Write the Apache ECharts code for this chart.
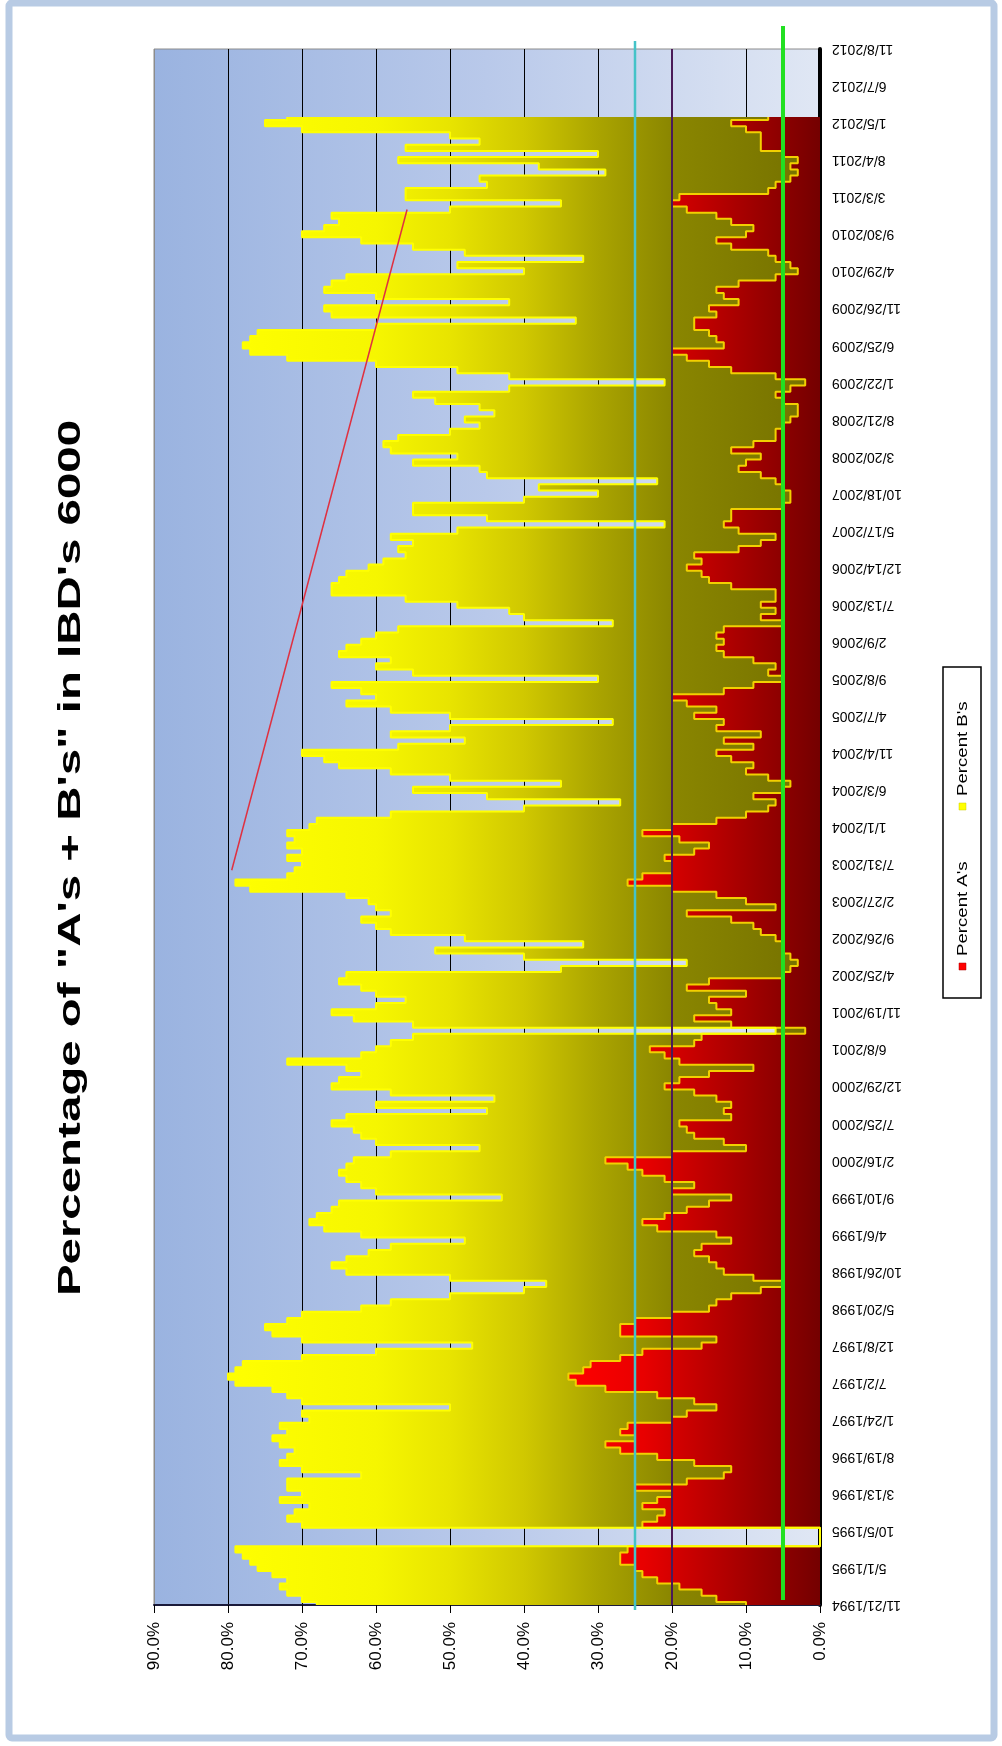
<!DOCTYPE html>
<html><head><meta charset="utf-8">
<script src="https://cdn.jsdelivr.net/npm/echarts@6/dist/echarts.min.js"></script>
<style>html,body{margin:0;padding:0;background:#fff;}#c{width:1002px;height:1746px;}</style>
</head><body><div id="c"></div>
<script>
const chartTitle = 'Percentage of "A\'s + B\'s" in IBD\'s 6000';
const seriesNames = ["Percent A's", "Percent B's"];
const tickLabels = ['11/21/1994','5/1/1995','10/5/1995','3/13/1996','8/19/1996','1/24/1997','7/2/1997','12/8/1997','5/20/1998','10/26/1998','4/6/1999','9/10/1999','2/16/2000','7/25/2000','12/29/2000','6/8/2001','11/19/2001','4/25/2002','9/26/2002','2/27/2003','7/31/2003','1/1/2004','6/3/2004','11/4/2004','4/7/2005','9/8/2005','2/9/2006','7/13/2006','12/14/2006','5/17/2007','10/18/2007','3/20/2008','8/21/2008','1/22/2009','6/25/2009','11/26/2009','4/29/2010','9/30/2010','3/3/2011','8/4/2011','1/5/2012','6/7/2012','11/8/2012'];
const pointsPerTick = 6;
const pctA = [10,14,16,19,22,24,25,27,27,26, 0,0,0,24,22,21,24,22,20,25, 18,13,12,17,22,27,29,25,27,26, 20,18,14,17,22,29,33,34,32,31,
 27,24,16,14,27,27,25,20,15,14, 12,8,5,9,13,14,15,17,16,12, 14,22,24,21,18,15,12,20,17,21, 24,26,29,20,10,13,17,18,19,12,
 13,12,14,17,21,19,15,9,19,21, 23,17,16,2,12,17,12,14,15,10, 18,15,5,4,3,4,5,5,6,8, 9,12,18,6,10,14,20,26,24,20,
 20,21,17,15,19,24,20,14,10,7, 6,9,5,4,7,10,9,12,14,9, 13,8,14,13,17,14,18,20,13,9, 5,7,6,9,13,14,13,14,13,5,
 8,6,8,6,6,12,15,16,18,16, 17,11,8,6,11,13,12,12,5,4, 4,5,6,8,11,10,8,12,9,6, 6,5,4,3,3,5,6,4,2,6,
 12,15,18,20,13,14,15,17,17,14, 15,11,13,14,11,6,3,4,6,7, 12,14,10,9,12,14,18,20,19,7, 6,4,3,4,3,5,8,8,8,10, 12,7];
const pctB = [58,56,56,54,50,50,51,50,51,53, 0,0,0,46,50,50,45,51,50,47, 54,49,58,56,50,44,44,49,45,47, 49,52,36,53,50,45,46,46,47,47,
 43,36,31,56,47,48,47,50,47,44, 38,32,32,41,51,52,49,44,42,36, 48,45,45,47,48,50,31,40,45,43, 41,38,34,38,36,47,45,45,47,52,
 32,48,30,41,45,46,47,55,53,41, 37,41,39,4,43,46,54,46,41,50, 44,50,59,31,15,36,47,27,42,50, 51,50,40,54,51,50,57,53,48,51,
 50,51,53,57,52,48,49,54,48,33, 21,36,50,31,43,48,56,55,56,48, 35,50,36,15,33,44,46,40,49,57, 25,48,54,49,52,50,49,46,44,23,
 32,36,41,50,60,54,50,48,43,43, 39,46,47,52,38,8,33,43,50,36, 26,33,16,37,35,45,41,46,50,51, 44,41,44,41,43,47,49,38,19,36,
 37,45,54,57,65,63,61,43,16,52, 52,31,47,53,55,58,37,45,26,41, 43,48,60,58,53,52,32,15,37,49, 39,42,26,34,54,25,48,38,42,60, 63,65];
const refLevels = { cyan: 25, purple: 20, green: 5 };
const trendLine = [[79.5, 119], [55.8, 226]];

const N = (tickLabels.length - 1) * pointsPerTick + 1;
const cats = Array.from({ length: N }, (_, i) => String(i));
const FONT = '"Liberation Sans", Arial, sans-serif';

const chart = echarts.init(document.getElementById('c'), null, { renderer: 'canvas' });
chart.setOption({
  animation: false,
  backgroundColor: '#ffffff',
  legend: { show: false, data: seriesNames },
  grid: {
    left: 154, right: 182, top: 49, bottom: 141, show: true,
    borderColor: '#8c8c8c', borderWidth: 1,
    backgroundColor: { type: 'linear', x: 0, y: 0, x2: 1, y2: 0,
      colorStops: [{ offset: 0, color: '#9ab3e0' }, { offset: 0.5, color: '#b9c9ea' }, { offset: 1, color: '#e0e7f4' }] }
  },
  xAxis: {
    type: 'value', inverse: true, min: 0, max: 90, interval: 10, position: 'bottom',
    axisLine: { show: true, onZero: false, lineStyle: { color: '#1a1a3a', width: 2 } },
    axisTick: { show: true, length: 8, lineStyle: { color: '#000', width: 1 } },
    axisLabel: { rotate: 90, margin: 17, fontSize: 17, fontFamily: FONT, color: '#000',
      formatter: v => v.toFixed(1) + '%' },
    splitLine: { show: true, lineStyle: { width: 1,
      color: ['#000', '#000', '#000', '#000', '#000', '#000', '#000', '#000', '#000', '#8c8c8c'] } }
  },
  yAxis: {
    type: 'category', position: 'right', boundaryGap: false, data: cats,
    axisLine: { show: true, onZero: false, lineStyle: { color: '#000', width: 4 } },
    axisTick: { show: false },
    splitLine: { show: false },
    axisLabel: { interval: pointsPerTick - 1, rotate: 180, margin: 12, fontSize: 14, fontFamily: FONT, color: '#000',
      formatter: v => { const i = Number(v); return i % pointsPerTick === 0 ? tickLabels[i / pointsPerTick] : ''; } }
  },
  series: [
    {
      name: seriesNames[0], type: 'line', stack: 'total', step: 'middle', data: pctA, symbol: 'none', showSymbol: false, z: 2,
      lineStyle: { color: '#f2d000', width: 2 },
      areaStyle: { opacity: 1, color: { type: 'linear', x: 0, y: 0, x2: 1, y2: 0,
        colorStops: [{ offset: 0, color: '#ff0000' }, { offset: 0.3, color: '#e80000' }, { offset: 0.75, color: '#9c0000' }, { offset: 1, color: '#740000' }] } },
      markLine: {
        silent: true, symbol: 'none', label: { show: false }, z: 6,
        data: [
          { xAxis: refLevels.purple, lineStyle: { color: '#4a1a58', width: 2, type: 'solid' } },
          [{ coord: [trendLine[0][0], trendLine[0][1]], lineStyle: { color: '#e03040', width: 1.5, type: 'solid' } },
           { coord: [trendLine[1][0], trendLine[1][1]] }]
        ]
      }
    },
    {
      name: seriesNames[1], type: 'line', stack: 'total', step: 'middle', data: pctB, symbol: 'none', showSymbol: false, z: 2,
      lineStyle: { color: '#ffff00', width: 2 },
      areaStyle: { opacity: 1, color: { type: 'linear', x: 0, y: 0, x2: 1, y2: 0,
        colorStops: [{ offset: 0, color: '#ffff00' }, { offset: 0.25, color: '#f6f600' }, { offset: 0.375, color: '#e8e400' },
          { offset: 0.5, color: '#d0c800' }, { offset: 0.625, color: '#aaa400' }, { offset: 0.75, color: '#8a8600' }, { offset: 1, color: '#747000' }] } }
    }
  ]
});

const xc = chart.convertToPixel({ xAxisIndex: 0 }, refLevels.cyan);
const xg = chart.convertToPixel({ xAxisIndex: 0 }, refLevels.green);
const yTop = chart.convertToPixel({ yAxisIndex: 0 }, N - 1);
const yBot = chart.convertToPixel({ yAxisIndex: 0 }, 0);

chart.setOption({
  graphic: [
    { type: 'rect', z: 100, silent: true, shape: { x: 9, y: 3, width: 985, height: 1735, r: 3 },
      style: { fill: 'none', stroke: '#b8cbe4', lineWidth: 7 } },
    { type: 'line', z: 100, silent: true, shape: { x1: xc, y1: yTop - 8, x2: xc, y2: yBot + 5 },
      style: { stroke: '#45c3c8', lineWidth: 2.5 } },
    { type: 'line', z: 100, silent: true, shape: { x1: xg, y1: yTop - 23, x2: xg, y2: yBot - 5 },
      style: { stroke: '#22e022', lineWidth: 4 } },
    { type: 'text', z: 100, silent: true, x: 71, y: 858, rotation: Math.PI / 2, scaleX: 1.53,
      style: { text: chartTitle, font: 'bold 31px ' + FONT, fill: '#000', align: 'center', verticalAlign: 'middle' } },
    { type: 'rect', z: 100, silent: true, shape: { x: 943, y: 667, width: 38, height: 331 },
      style: { fill: '#ffffff', stroke: '#000', lineWidth: 1.5 } },
    { type: 'rect', z: 101, silent: true, shape: { x: 959, y: 963, width: 7, height: 7 },
      style: { fill: '#ff0000', stroke: '#aa0000', lineWidth: 0.5 } },
    { type: 'text', z: 101, silent: true, x: 963, y: 956, rotation: Math.PI / 2, scaleX: 1.33,
      style: { text: seriesNames[0], font: '14px ' + FONT, fill: '#000', align: 'left', verticalAlign: 'middle' } },
    { type: 'rect', z: 101, silent: true, shape: { x: 959, y: 803, width: 7, height: 7 },
      style: { fill: '#ffff00', stroke: '#cccc00', lineWidth: 0.5 } },
    { type: 'text', z: 101, silent: true, x: 963, y: 796, rotation: Math.PI / 2, scaleX: 1.33,
      style: { text: seriesNames[1], font: '14px ' + FONT, fill: '#000', align: 'left', verticalAlign: 'middle' } }
  ]
});
</script></body></html>
